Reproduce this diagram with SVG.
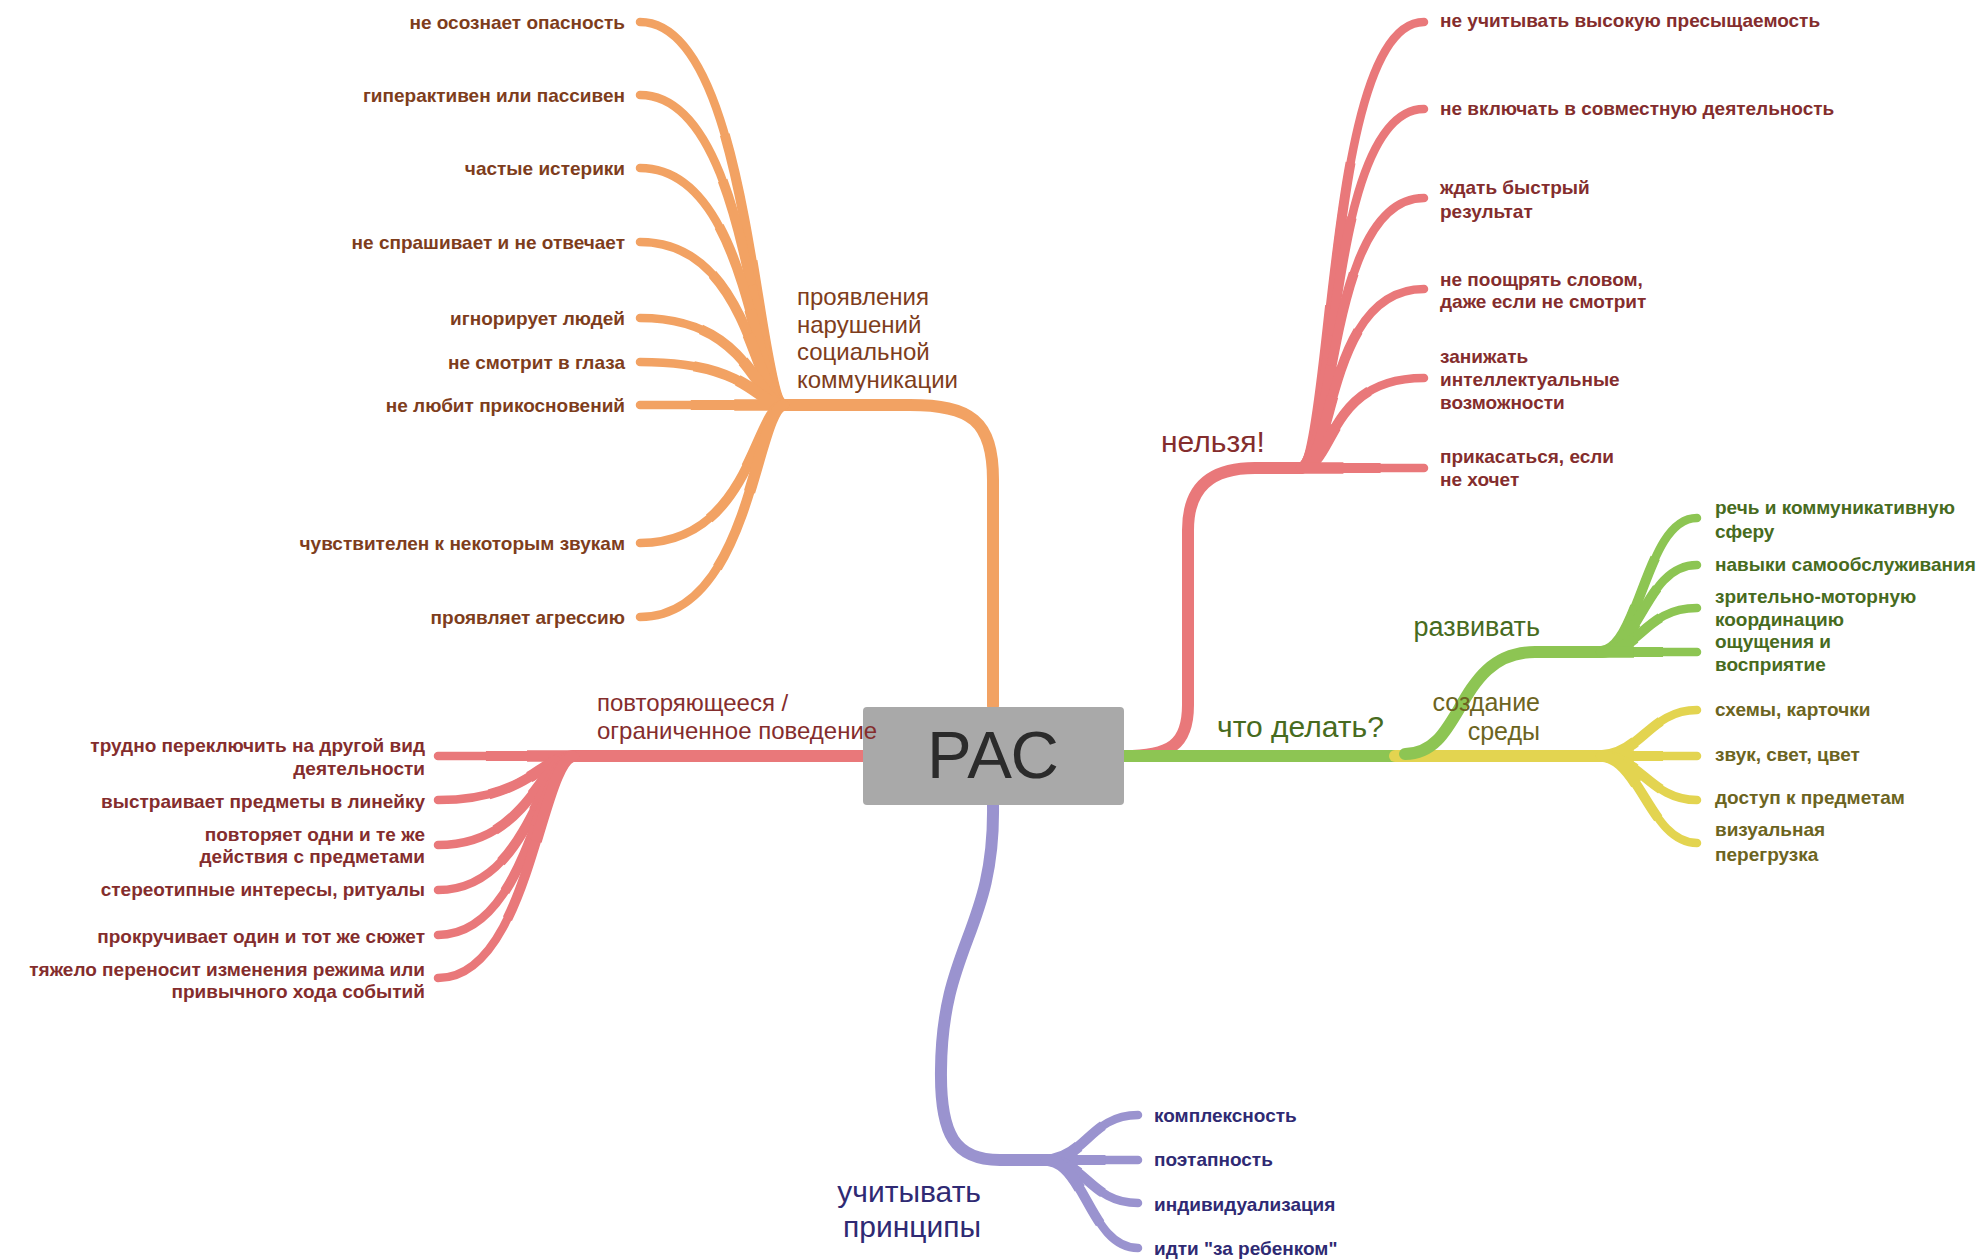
<svg xmlns="http://www.w3.org/2000/svg" width="1984" height="1259" viewBox="0 0 1984 1259">
<style>
  .c { fill: none; stroke-linecap: round; stroke-linejoin: round; }
  .trunk { stroke-width: 12; }
  .leaf { stroke-width: 8.5; }
  .tp1 { fill: none; stroke-width: 10; stroke-linecap: butt; stroke-dasharray: 65 200; }
  .tp2 { fill: none; stroke-width: 11.5; stroke-linecap: butt; stroke-dasharray: 35 200; }
  .or { stroke: #F2A263; }
  .rd { stroke: #E9787A; }
  .gr { stroke: #8DC553; }
  .ye { stroke: #E3D450; }
  .pu { stroke: #9A93CF; }
  text { font-family: "Liberation Sans", Arial, sans-serif; }
  .lt { font-size: 19px; font-weight: bold; }
  .end { text-anchor: end; }
  .t-or { fill: #7E3D1C; }
  .t-rd { fill: #842D2D; }
  .t-gr { fill: #476B20; }
  .t-ye { fill: #6C6421; }
  .t-pu { fill: #2F2A73; }
  .b24 { font-size: 24px; }
  .b25 { font-size: 25px; }
  .b27 { font-size: 27px; }
  .b30 { font-size: 30px; }
</style>
<defs>
  <!-- orange leaves -->
  <path id="o1" pathLength="100" d="M 785 405 C 755 405, 752 22, 640 22"/>
  <path id="o2" pathLength="100" d="M 785 405 C 755 405, 752 95, 640 95"/>
  <path id="o3" pathLength="100" d="M 785 405 C 755 405, 752 168, 640 168"/>
  <path id="o4" pathLength="100" d="M 785 405 C 755 405, 752 242, 640 242"/>
  <path id="o5" pathLength="100" d="M 785 405 C 755 405, 752 318, 640 318"/>
  <path id="o6" pathLength="100" d="M 785 405 C 755 405, 752 362, 640 362"/>
  <path id="o7" pathLength="100" d="M 785 405 H 640"/>
  <path id="o8" pathLength="100" d="M 785 405 C 755 405, 752 543, 640 543"/>
  <path id="o9" pathLength="100" d="M 785 405 C 755 405, 752 617, 640 617"/>
  <!-- red left leaves -->
  <path id="r1" pathLength="100" d="M 575 756 H 438"/>
  <path id="r2" pathLength="100" d="M 575 756 C 540 756, 530 800, 438 800"/>
  <path id="r3" pathLength="100" d="M 575 756 C 540 756, 530 845, 438 845"/>
  <path id="r4" pathLength="100" d="M 575 756 C 540 756, 530 890, 438 890"/>
  <path id="r5" pathLength="100" d="M 575 756 C 540 756, 530 935, 438 935"/>
  <path id="r6" pathLength="100" d="M 575 756 C 540 756, 530 978, 438 978"/>
  <!-- red right leaves -->
  <path id="n1" pathLength="100" d="M 1300 468 C 1335 468, 1325 22, 1424 22"/>
  <path id="n2" pathLength="100" d="M 1300 468 C 1335 468, 1325 109, 1424 109"/>
  <path id="n3" pathLength="100" d="M 1300 468 C 1335 468, 1325 198, 1424 198"/>
  <path id="n4" pathLength="100" d="M 1300 468 C 1335 468, 1325 289, 1424 289"/>
  <path id="n5" pathLength="100" d="M 1300 468 C 1335 468, 1325 378, 1424 378"/>
  <path id="n6" pathLength="100" d="M 1300 468 H 1424"/>
  <!-- green leaves -->
  <path id="g1" pathLength="100" d="M 1600 652 C 1640 652, 1645 518, 1697 518"/>
  <path id="g2" pathLength="100" d="M 1600 652 C 1640 652, 1645 565, 1697 565"/>
  <path id="g3" pathLength="100" d="M 1600 652 C 1640 652, 1645 608, 1697 608"/>
  <path id="g4" pathLength="100" d="M 1600 652 H 1697"/>
  <!-- yellow leaves -->
  <path id="y1" pathLength="100" d="M 1600 756 C 1640 756, 1650 710, 1697 710"/>
  <path id="y2" pathLength="100" d="M 1600 756 H 1697"/>
  <path id="y3" pathLength="100" d="M 1600 756 C 1640 756, 1650 800, 1697 800"/>
  <path id="y4" pathLength="100" d="M 1600 756 C 1640 756, 1650 843, 1697 843"/>
  <!-- purple leaves -->
  <path id="p1" pathLength="100" d="M 1045 1160 C 1085 1160, 1090 1115, 1138 1115"/>
  <path id="p2" pathLength="100" d="M 1045 1160 H 1138"/>
  <path id="p3" pathLength="100" d="M 1045 1160 C 1085 1160, 1090 1203, 1138 1203"/>
  <path id="p4" pathLength="100" d="M 1045 1160 C 1085 1160, 1090 1248, 1138 1248"/>
</defs>

<g id="connectors">
  <!-- orange -->
  <path class="c trunk or" d="M 993 706 V 480 C 993 420, 970 405, 910 405 H 785"/>
  <g class="or">
    <use href="#o1" class="c leaf"/><use href="#o1" class="tp1"/><use href="#o1" class="tp2"/>
    <use href="#o2" class="c leaf"/><use href="#o2" class="tp1"/><use href="#o2" class="tp2"/>
    <use href="#o3" class="c leaf"/><use href="#o3" class="tp1"/><use href="#o3" class="tp2"/>
    <use href="#o4" class="c leaf"/><use href="#o4" class="tp1"/><use href="#o4" class="tp2"/>
    <use href="#o5" class="c leaf"/><use href="#o5" class="tp1"/><use href="#o5" class="tp2"/>
    <use href="#o6" class="c leaf"/><use href="#o6" class="tp1"/><use href="#o6" class="tp2"/>
    <use href="#o7" class="c leaf"/><use href="#o7" class="tp1"/><use href="#o7" class="tp2"/>
    <use href="#o8" class="c leaf"/><use href="#o8" class="tp1"/><use href="#o8" class="tp2"/>
    <use href="#o9" class="c leaf"/><use href="#o9" class="tp1"/><use href="#o9" class="tp2"/>
  </g>

  <!-- red left -->
  <path class="c trunk rd" d="M 863 756 H 575"/>
  <g class="rd">
    <use href="#r1" class="c leaf"/><use href="#r1" class="tp1"/><use href="#r1" class="tp2"/>
    <use href="#r2" class="c leaf"/><use href="#r2" class="tp1"/><use href="#r2" class="tp2"/>
    <use href="#r3" class="c leaf"/><use href="#r3" class="tp1"/><use href="#r3" class="tp2"/>
    <use href="#r4" class="c leaf"/><use href="#r4" class="tp1"/><use href="#r4" class="tp2"/>
    <use href="#r5" class="c leaf"/><use href="#r5" class="tp1"/><use href="#r5" class="tp2"/>
    <use href="#r6" class="c leaf"/><use href="#r6" class="tp1"/><use href="#r6" class="tp2"/>
  </g>

  <!-- red right -->
  <path class="c trunk rd" d="M 1124 756 C 1170 756, 1188 745, 1188 705 V 530 C 1188 488, 1210 468, 1255 468 H 1300"/>
  <g class="rd">
    <use href="#n1" class="c leaf"/><use href="#n1" class="tp1"/><use href="#n1" class="tp2"/>
    <use href="#n2" class="c leaf"/><use href="#n2" class="tp1"/><use href="#n2" class="tp2"/>
    <use href="#n3" class="c leaf"/><use href="#n3" class="tp1"/><use href="#n3" class="tp2"/>
    <use href="#n4" class="c leaf"/><use href="#n4" class="tp1"/><use href="#n4" class="tp2"/>
    <use href="#n5" class="c leaf"/><use href="#n5" class="tp1"/><use href="#n5" class="tp2"/>
    <use href="#n6" class="c leaf"/><use href="#n6" class="tp1"/><use href="#n6" class="tp2"/>
  </g>

  <!-- green / yellow -->
  <path class="c trunk gr" d="M 1124 756 H 1395"/>
  <path class="c trunk ye" d="M 1395 756 H 1600"/>
  <g class="ye">
    <use href="#y1" class="c leaf"/><use href="#y1" class="tp1"/><use href="#y1" class="tp2"/>
    <use href="#y2" class="c leaf"/><use href="#y2" class="tp1"/><use href="#y2" class="tp2"/>
    <use href="#y3" class="c leaf"/><use href="#y3" class="tp1"/><use href="#y3" class="tp2"/>
    <use href="#y4" class="c leaf"/><use href="#y4" class="tp1"/><use href="#y4" class="tp2"/>
  </g>
  <path class="c trunk gr" d="M 1405 754 C 1465 754, 1455 652, 1535 652 H 1600"/>
  <g class="gr">
    <use href="#g1" class="c leaf"/><use href="#g1" class="tp1"/><use href="#g1" class="tp2"/>
    <use href="#g2" class="c leaf"/><use href="#g2" class="tp1"/><use href="#g2" class="tp2"/>
    <use href="#g3" class="c leaf"/><use href="#g3" class="tp1"/><use href="#g3" class="tp2"/>
    <use href="#g4" class="c leaf"/><use href="#g4" class="tp1"/><use href="#g4" class="tp2"/>
  </g>

  <!-- purple -->
  <path class="c trunk pu" d="M 993 805 C 995 930, 942 945, 941 1070 C 940 1135, 955 1160, 1000 1160 H 1045"/>
  <g class="pu">
    <use href="#p1" class="c leaf"/><use href="#p1" class="tp1"/><use href="#p1" class="tp2"/>
    <use href="#p2" class="c leaf"/><use href="#p2" class="tp1"/><use href="#p2" class="tp2"/>
    <use href="#p3" class="c leaf"/><use href="#p3" class="tp1"/><use href="#p3" class="tp2"/>
    <use href="#p4" class="c leaf"/><use href="#p4" class="tp1"/><use href="#p4" class="tp2"/>
  </g>
</g>

<g id="root">
  <rect x="863" y="707" width="261" height="98" rx="4" fill="#A9A9A9"/>
  <text x="993" y="778" font-size="67" text-anchor="middle" fill="#2B2B2B">РАС</text>
</g>

<g id="social">
  <text class="b24 t-or" x="797" y="305">проявления</text>
  <text class="b24 t-or" x="797" y="333">нарушений</text>
  <text class="b24 t-or" x="797" y="360">социальной</text>
  <text class="b24 t-or" x="797" y="388">коммуникации</text>
</g>
<g id="social-leaves">
  <text class="lt end t-or" x="625" y="29">не осознает опасность</text>
  <text class="lt end t-or" x="625" y="102">гиперактивен или пассивен</text>
  <text class="lt end t-or" x="625" y="175">частые истерики</text>
  <text class="lt end t-or" x="625" y="249">не спрашивает и не отвечает</text>
  <text class="lt end t-or" x="625" y="325">игнорирует людей</text>
  <text class="lt end t-or" x="625" y="369">не смотрит в глаза</text>
  <text class="lt end t-or" x="625" y="412">не любит прикосновений</text>
  <text class="lt end t-or" x="625" y="550">чувствителен к некоторым звукам</text>
  <text class="lt end t-or" x="625" y="624">проявляет агрессию</text>
</g>

<g id="repetitive">
  <text class="b24 t-rd" x="597" y="711">повторяющееся /</text>
  <text class="b24 t-rd" x="597" y="739">ограниченное поведение</text>
</g>
<g id="repetitive-leaves">
  <text class="lt end t-rd" x="425" y="752">трудно переключить на другой вид</text>
  <text class="lt end t-rd" x="425" y="775">деятельности</text>
  <text class="lt end t-rd" x="425" y="808">выстраивает предметы в линейку</text>
  <text class="lt end t-rd" x="425" y="841">повторяет одни и те же</text>
  <text class="lt end t-rd" x="425" y="863">действия с предметами</text>
  <text class="lt end t-rd" x="425" y="896">стереотипные интересы, ритуалы</text>
  <text class="lt end t-rd" x="425" y="943">прокручивает один и тот же сюжет</text>
  <text class="lt end t-rd" x="425" y="976">тяжело переносит изменения режима или</text>
  <text class="lt end t-rd" x="425" y="998">привычного хода событий</text>
</g>

<g id="forbidden">
  <text class="b30 t-rd" x="1161" y="452">нельзя!</text>
</g>
<g id="forbidden-leaves">
  <text class="lt t-rd" x="1440" y="27">не учитывать высокую пресыщаемость</text>
  <text class="lt t-rd" x="1440" y="115">не включать в совместную деятельность</text>
  <text class="lt t-rd" x="1440" y="194">ждать быстрый</text>
  <text class="lt t-rd" x="1440" y="218">результат</text>
  <text class="lt t-rd" x="1440" y="286">не поощрять словом,</text>
  <text class="lt t-rd" x="1440" y="308">даже если не смотрит</text>
  <text class="lt t-rd" x="1440" y="363">занижать</text>
  <text class="lt t-rd" x="1440" y="386">интеллектуальные</text>
  <text class="lt t-rd" x="1440" y="409">возможности</text>
  <text class="lt t-rd" x="1440" y="463">прикасаться, если</text>
  <text class="lt t-rd" x="1440" y="486">не хочет</text>
</g>

<g id="todo">
  <text class="b30 t-gr" x="1217" y="737">что делать?</text>
</g>
<g id="develop">
  <text class="b27 end t-gr" x="1540" y="636">развивать</text>
  <text class="lt t-gr" x="1715" y="514">речь и коммуникативную</text>
  <text class="lt t-gr" x="1715" y="538">сферу</text>
  <text class="lt t-gr" x="1715" y="571">навыки самообслуживания</text>
  <text class="lt t-gr" x="1715" y="603">зрительно-моторную</text>
  <text class="lt t-gr" x="1715" y="626">координацию</text>
  <text class="lt t-gr" x="1715" y="648">ощущения и</text>
  <text class="lt t-gr" x="1715" y="671">восприятие</text>
</g>
<g id="environment">
  <text class="b25 end t-ye" x="1540" y="711">создание</text>
  <text class="b25 end t-ye" x="1540" y="740">среды</text>
  <text class="lt t-ye" x="1715" y="716">схемы, карточки</text>
  <text class="lt t-ye" x="1715" y="761">звук, свет, цвет</text>
  <text class="lt t-ye" x="1715" y="804">доступ к предметам</text>
  <text class="lt t-ye" x="1715" y="836">визуальная</text>
  <text class="lt t-ye" x="1715" y="861">перегрузка</text>
</g>

<g id="principles">
  <text class="b30 end t-pu" x="981" y="1202">учитывать</text>
  <text class="b30 end t-pu" x="981" y="1237">принципы</text>
</g>
<g id="principles-leaves">
  <text class="lt t-pu" x="1154" y="1122">комплексность</text>
  <text class="lt t-pu" x="1154" y="1166">поэтапность</text>
  <text class="lt t-pu" x="1154" y="1211">индивидуализация</text>
  <text class="lt t-pu" x="1154" y="1255">идти "за ребенком"</text>
</g>
</svg>
